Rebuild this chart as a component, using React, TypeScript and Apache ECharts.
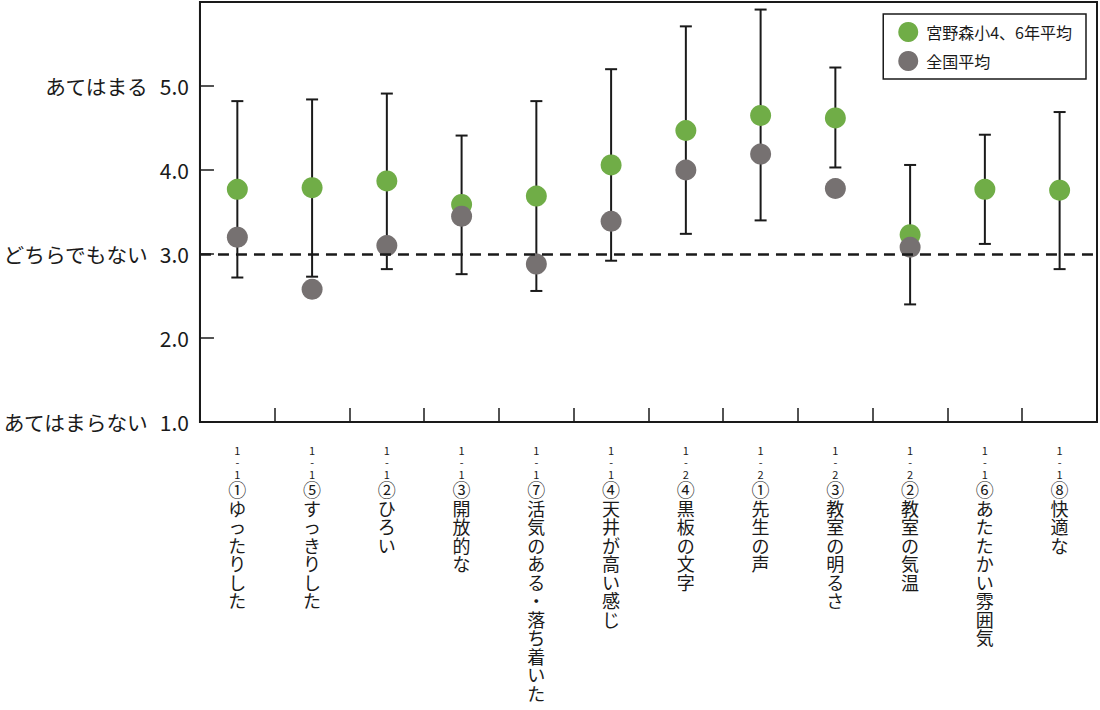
import { useEffect, useRef } from 'react'
import * as echarts from 'echarts'

// 項目
const categories = [
  '1-1①ゆったりした',
  '1-1⑤すっきりした',
  '1-1②ひろい',
  '1-1③開放的な',
  '1-1⑦活気のある・落ち着いた',
  '1-1④天井が高い感じ',
  '1-2④黒板の文字',
  '1-2①先生の声',
  '1-2③教室の明るさ',
  '1-2②教室の気温',
  '1-1⑥あたたかい雰囲気',
  '1-1⑧快適な'
]

// 宮野森小4、6年平均
const schoolMean = [3.77, 3.79, 3.87, 3.59, 3.69, 4.06, 4.47, 4.65, 4.62, 3.23, 3.77, 3.76]
// 全国平均（null = データなし）
const nationalMean = [3.2, 2.58, 3.1, 3.45, 2.88, 3.39, 4.0, 4.19, 3.78, 3.08, null, null]
// エラーバー（下端・上端）
const errLow = [2.72, 2.73, 2.82, 2.76, 2.56, 2.92, 3.24, 3.4, 4.03, 2.4, 3.12, 2.82]
const errHigh = [4.82, 4.84, 4.91, 4.41, 4.82, 5.2, 5.71, 5.91, 5.22, 4.06, 4.42, 4.69]

// 目盛り
const yMin = 1
const yMax = 6
const yTextLabels: Record<number, string> = {
  1: 'あてはまらない',
  3: 'どちらでもない',
  5: 'あてはまる'
}
const neutralValue = 3

const seriesNames = ['宮野森小4、6年平均', '全国平均']

const FONT = '"Noto Sans CJK JP", "Noto Sans", sans-serif'
const INK = '#1a1a1a'

// 縦書き風のラベル
const verticalLabel = (value: string): string => {
  const prefix = value.slice(0, 3).split('').map(c => `{p|${c}}`)
  const rest = value.slice(3).split('').map(c => `{c|${c}}`)
  return [...prefix, ...rest].join('\n')
}

const App: React.FC = () => {
  const chartRef = useRef<HTMLDivElement | null>(null)

  useEffect(() => {
    if (chartRef.current === null) return
    const chart = echarts.init(chartRef.current, undefined, { renderer: 'svg' })

    const option = {
      animation: false,
      textStyle: { fontFamily: FONT, color: INK },
      grid: {
        left: 199,
        right: 3,
        top: 2,
        bottom: 288,
        show: true,
        borderColor: INK,
        borderWidth: 2
      },
      legend: {
        data: seriesNames,
        orient: 'vertical',
        right: 14,
        top: 14,
        icon: 'circle',
        itemWidth: 20,
        itemHeight: 20,
        itemGap: 9,
        padding: [8, 14, 8, 15],
        borderColor: INK,
        borderWidth: 1.5,
        textStyle: { fontSize: 16, fontFamily: FONT, color: INK, padding: [0, 0, 0, 3] }
      },
      xAxis: {
        type: 'category',
        data: categories,
        boundaryGap: true,
        z: 5,
        axisLine: { show: true, lineStyle: { color: INK, width: 2 } },
        axisTick: { show: true, inside: true, length: 14, interval: 0, lineStyle: { color: INK, width: 1.5 } },
        axisLabel: {
          interval: 0,
          margin: 22,
          formatter: verticalLabel,
          rich: {
            p: { fontSize: 11, lineHeight: 12, fontFamily: FONT, color: INK },
            c: { fontSize: 18, lineHeight: 18.5, fontFamily: FONT, color: INK }
          }
        }
      },
      yAxis: {
        type: 'value',
        min: yMin,
        max: yMax,
        interval: 1,
        z: 5,
        splitLine: { show: false },
        axisLine: { show: true, lineStyle: { color: INK, width: 2 } },
        axisTick: { show: true, inside: true, length: 14, interval: 0, lineStyle: { color: INK, width: 1.5 } },
        axisLabel: {
          margin: 11,
          showMaxLabel: false,
          formatter: (v: number) => {
            if (v >= yMax) return ''
            const t = yTextLabels[v]
            const n = `{n|${v.toFixed(1)}}`
            return t ? `{t|${t}}${n}` : n
          },
          rich: {
            t: { fontSize: 20.7, fontFamily: FONT, color: INK, padding: [0, 12, 0, 0] },
            n: { fontSize: 21, fontFamily: FONT, color: INK }
          }
        }
      },
      series: [
        {
          type: 'custom',
          z: 2,
          silent: true,
          data: errLow.map((l, i) => [i, l, errHigh[i]]),
          encode: { x: 0, y: [1, 2] },
          renderItem: (_params: any, api: any) => {
            const idx = api.value(0)
            const low = api.coord([idx, api.value(1)])
            const high = api.coord([idx, api.value(2)])
            const half = 6
            const style = { stroke: INK, lineWidth: 2 }
            return {
              type: 'group',
              children: [
                { type: 'line', shape: { x1: low[0], y1: low[1], x2: high[0], y2: high[1] }, style },
                { type: 'line', shape: { x1: low[0] - half, y1: low[1], x2: low[0] + half, y2: low[1] }, style },
                { type: 'line', shape: { x1: high[0] - half, y1: high[1], x2: high[0] + half, y2: high[1] }, style }
              ]
            }
          },
          markLine: {
            silent: true,
            symbol: 'none',
            label: { show: false },
            lineStyle: { color: INK, type: [11, 7], width: 2.5 },
            data: [{ yAxis: neutralValue }]
          }
        },
        {
          name: seriesNames[0],
          type: 'scatter',
          z: 3,
          symbolSize: 21,
          itemStyle: { color: '#70AD47', opacity: 1 },
          data: schoolMean
        },
        {
          name: seriesNames[1],
          type: 'scatter',
          z: 4,
          symbolSize: 21,
          itemStyle: { color: '#767171', opacity: 1 },
          data: nationalMean.map(v => (v === null ? '-' : v))
        }
      ]
    }

    chart.setOption(option as any)
    return () => {
      chart.dispose()
    }
  }, [])

  return (
    <div
      ref={chartRef}
      style={{ position: 'fixed', left: 0, top: 0, width: 1100, height: 710, background: '#fff' }}
    ></div>
  )
}

export default App
